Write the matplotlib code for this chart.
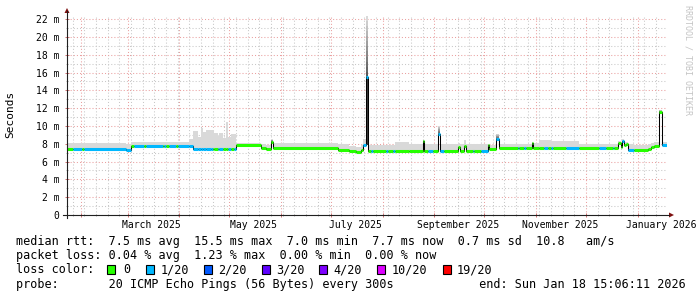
import matplotlib
matplotlib.use('Agg')
import matplotlib.pyplot as plt
import matplotlib.dates as mdates
from matplotlib.patches import Polygon, Rectangle
from matplotlib.lines import Line2D
from matplotlib.transforms import blended_transform_factory
import numpy as np
import pandas as pd

W, H = 697, 297

# time window (last 360 days)
t_start = '2025-01-23 15:06:11'
t_end = '2026-01-18 15:06:11'

# median rtt in ms, drawn as steps: start of step, value, loss class, top of smoke
seg_start = [
    '2025-01-23 15:06', '2025-01-27', '2025-02-01 12:00', '2025-02-03', '2025-02-28',
    '2025-03-03', '2025-03-05', '2025-03-11', '2025-03-12', '2025-03-22',
    '2025-03-23', '2025-03-24', '2025-03-26', '2025-03-30', '2025-03-31',
    '2025-04-07', '2025-04-09', '2025-04-12', '2025-04-14', '2025-04-15',
    '2025-04-17', '2025-04-20', '2025-04-21', '2025-04-22', '2025-04-24',
    '2025-04-25', '2025-04-27', '2025-04-29', '2025-04-30', '2025-05-02',
    '2025-05-04', '2025-05-05', '2025-05-20', '2025-05-23', '2025-05-26',
    '2025-05-27', '2025-07-05', '2025-07-12', '2025-07-16', '2025-07-19',
    '2025-07-20 12:00', '2025-07-22', '2025-07-23 12:00', '2025-07-25', '2025-07-26 12:00',
    '2025-08-03', '2025-08-04 12:00', '2025-08-07', '2025-08-08 12:00', '2025-08-17',
    '2025-08-25', '2025-08-26', '2025-08-28', '2025-08-31', '2025-09-03',
    '2025-09-04 06:00', '2025-09-07', '2025-09-15', '2025-09-16 06:00', '2025-09-19',
    '2025-09-20 06:00', '2025-09-24', '2025-09-25', '2025-09-29', '2025-10-03',
    '2025-10-04', '2025-10-08', '2025-10-09 18:00', '2025-10-21', '2025-10-22',
    '2025-10-25', '2025-10-26', '2025-10-29 12:00', '2025-10-30 12:00', '2025-11-03',
    '2025-11-06', '2025-11-08', '2025-11-10', '2025-11-11', '2025-11-19',
    '2025-11-27', '2025-12-09', '2025-12-13', '2025-12-17', '2025-12-18',
    '2025-12-20', '2025-12-22', '2025-12-22 18:00', '2025-12-24', '2025-12-25',
    '2025-12-26', '2025-12-30', '2026-01-07', '2026-01-09', '2026-01-11',
    '2026-01-14', '2026-01-15 12:00',
]
seg_median = [
    7.45, 7.45, 7.45, 7.45, 7.25,
    7.75, 7.75, 7.75, 7.75, 7.75,
    7.75, 7.75, 7.75, 7.75, 7.75,
    7.75, 7.45, 7.45, 7.45, 7.45,
    7.45, 7.45, 7.45, 7.45, 7.45,
    7.45, 7.45, 7.45, 7.45, 7.45,
    7.45, 7.85, 7.55, 7.4, 8.25,
    7.55, 7.35, 7.2, 7.05, 7.3,
    7.9, 15.5, 7.2, 7.2, 7.2,
    7.2, 7.2, 7.2, 7.2, 7.2,
    8.3, 7.2, 7.2, 7.2, 9.1,
    7.2, 7.2, 7.6, 7.2, 7.8,
    7.2, 7.2, 7.2, 7.2, 7.9,
    7.4, 8.55, 7.5, 7.5, 7.5,
    7.5, 7.5, 8.1, 7.5, 7.5,
    7.5, 7.5, 7.5, 7.5, 7.5,
    7.5, 7.5, 7.5, 7.5, 7.5,
    8.1, 7.6, 8.3, 7.9, 8.0,
    7.35, 7.25, 7.45, 7.65, 7.8,
    11.6, 7.85,
]
seg_loss = [
    0, 1, 0, 1, 1,
    0, 1, 0, 1, 0,
    1, 0, 1, 0, 1,
    1, 1, 1, 1, 1,
    1, 1, 0, 0, 1,
    1, 0, 0, 1, 0,
    1, 0, 0, 0, 0,
    0, 0, 0, 0, 0,
    1, 1, 0, 1, 0,
    1, 0, 1, 0, 0,
    0, 0, 1, 0, 1,
    1, 0, 0, 0, 0,
    0, 1, 0, 1, 0,
    0, 1, 0, 1, 0,
    1, 0, 0, 0, 0,
    1, 0, 1, 0, 1,
    0, 1, 0, 1, 0,
    0, 0, 1, 0, 0,
    1, 0, 0, 0, 0,
    0, 1,
]
seg_smoke = [
    8.05, 8.05, 8.05, 8.1, 7.95,
    8.25, 8.25, 8.2, 8.2, 8.2,
    8.2, 8.2, 8.2, 8.2, 8.2,
    8.5, 9.45, 8.8, 9.8, 9.35,
    9.55, 9.6, 9.6, 9.2, 8.9,
    9.2, 8.7, 10.5, 8.8, 9.1,
    9.1, 8.1, 8.0, 7.9, 8.25,
    8.05, 8.0, 7.8, 7.6, 7.9,
    8.5, 15.5, 7.9, 7.9, 7.9,
    7.9, 7.9, 7.9, 8.2, 7.95,
    8.3, 7.95, 7.95, 7.95, 9.1,
    7.95, 7.95, 8.1, 7.95, 8.4,
    7.95, 7.95, 7.95, 7.95, 8.0,
    7.9, 8.55, 8.0, 8.0, 8.0,
    8.0, 8.0, 8.2, 8.05, 8.4,
    8.4, 8.4, 8.35, 8.35, 8.3,
    8.0, 8.0, 8.0, 8.0, 8.0,
    8.3, 8.1, 8.5, 8.2, 8.2,
    8.0, 7.9, 8.0, 8.1, 8.2,
    11.6, 8.2,
]

# spikes with a darker smoke column
spike_start = ['2025-05-26', '2025-07-22', '2025-08-25', '2025-09-03', '2025-10-08', '2026-01-14']
spike_end = ['2025-05-27', '2025-07-23 12:00', '2025-08-26', '2025-09-04 06:00', '2025-10-09 18:00', '2026-01-15 12:00']
spike_low = [8.25, 7.9, 8.3, 9.1, 8.55, 11.6]
spike_mid = [8.25, 15.5, 8.3, 9.1, 8.55, 11.6]
spike_high = [8.5, 22.4, 8.4, 10.0, 9.1, 11.8]

loss_labels = ['0', '1/20', '2/20', '3/20', '4/20', '10/20', '19/20']
loss_colors = ['#26ff00', '#00b8ff', '#0059ff', '#5e00ff', '#7e00ff', '#dd00ff', '#ff0000']
box_x = [107, 145.5, 204, 261.5, 319, 376.5, 442.5]
label_x = [123, 160.5, 218, 276, 333, 391.5, 456.5]

month_labels = ['March 2025', 'May 2025', 'July 2025', 'September 2025', 'November 2025', 'January 2026']
month_label_at = ['2025-03-15 12:00', '2025-05-15 12:00', '2025-07-15 12:00',
                  '2025-09-15 12:00', '2025-11-15 12:00', '2026-01-15 06:00']

y_ticks = [0, 2, 4, 6, 8, 10, 12, 14, 16, 18, 20, 22]
y_max = 22.47

legend_lines = [
    'median rtt:  7.5 ms avg  15.5 ms max  7.0 ms min  7.7 ms now  0.7 ms sd  10.8   am/s',
    'packet loss: 0.04 % avg  1.23 % max  0.00 % min  0.00 % now',
    'loss color:',
    'probe:       20 ICMP Echo Pings (56 Bytes) every 300s            end: Sun Jan 18 15:06:11 2026',
]

mono = 'DejaVu Sans Mono'


def fx(x):
    return x / W


def fy(y):
    return 1 - y / H


def num(d):
    return mdates.date2num(pd.to_datetime(d))


fig = plt.figure(figsize=(W / 100, H / 100), dpi=100)
fig.patch.set_facecolor('white')
ax = fig.add_axes([fx(67), 1 - 215 / H, 600 / W, 200 / H])
ax.set_facecolor('white')
for s in ax.spines.values():
    s.set_visible(False)

x0, x1 = num(t_start), num(t_end)
ax.set_xlim(x0, x1)
ax.set_ylim(0, y_max)

# grid: months (red) and weeks (grey), 2 ms (red) and 1 ms (grey)
months = pd.date_range('2025-02-01', t_end, freq='MS')
mondays = pd.date_range('2025-01-27', t_end, freq='7D')
ax.set_xticks(mdates.date2num(months))
ax.set_xticks(mdates.date2num(mondays), minor=True)
ax.set_yticks(y_ticks)
ax.set_yticks(np.arange(1, 23, 2), minor=True)
ax.set_yticklabels(['0' if v == 0 else f'{v} m' for v in y_ticks],
                   family=mono, fontsize=7)
ax.tick_params(axis='x', which='both', labelbottom=False)
ax.tick_params(which='major', direction='inout', length=2.5, width=0.7, color='#d07070', pad=4)
ax.tick_params(which='minor', direction='inout', length=2, width=0.7, color='#b0b0b0')
ax.grid(True, which='major', color='#eaa0a0', ls=(0, (1, 2)), lw=0.75)
ax.grid(True, which='minor', color='#c8c8c8', ls=(0, (1, 2)), lw=0.75)
ax.set_axisbelow(True)

# smoke
edges = np.array([num(d) for d in seg_start] + [x1])
med = np.array(seg_median)
ax.stairs(seg_smoke, edges, baseline=med, fill=True, color='#d9d9d9', lw=0, zorder=1)

for s, e, lo, mid, hi in zip(spike_start, spike_end, spike_low, spike_mid, spike_high):
    a, b = num(s), num(e)
    if mid > lo:
        ax.fill_between([a, b], lo, mid, color='#383838', lw=0, zorder=1.5)
    levels = np.linspace(mid, hi, 13)
    greys = np.linspace(0.35, 0.85, 12)
    for k in range(12):
        ax.fill_between([a, b], levels[k], levels[k + 1], color=str(greys[k]), lw=0, zorder=1.5)

# median line and loss colour
ax.stairs(med, edges, baseline=None, color='black', lw=0.75, zorder=2)
ax.hlines(med, edges[:-1], edges[1:], colors=[loss_colors[i] for i in seg_loss],
          lw=2.2, zorder=3)

# month labels
tr = blended_transform_factory(ax.transData, ax.transAxes)
for d, lab in zip(month_label_at, month_labels):
    ax.text(num(d), -13.3 / 200, lab, transform=tr, ha='center', va='baseline',
            family=mono, fontsize=7)

# axes with arrows
axis_col = '#202020'
arrow_col = '#7f1010'
fig.add_artist(Line2D([fx(67), fx(67)], [fy(218), fy(11)], color=axis_col, lw=0.8))
fig.add_artist(Line2D([fx(63), fx(669)], [fy(215), fy(215)], color=axis_col, lw=0.8))
fig.add_artist(Polygon([(fx(64.5), fy(13)), (fx(69.5), fy(13)), (fx(67), fy(8))],
                       closed=True, color=arrow_col, lw=0))
fig.add_artist(Polygon([(fx(669), fy(212.5)), (fx(669), fy(217.5)), (fx(674), fy(215))],
                       closed=True, color=arrow_col, lw=0))

fig.text(fx(10.5), fy(114), 'Seconds', rotation=90, ha='center', va='center',
         family=mono, fontsize=8)
fig.text(fx(688), fy(60), 'RRDTOOL / TOBI OETIKER', rotation=270, ha='center', va='center',
         family=mono, fontsize=6, color='#c4c4c4')

# legend
base = [244.7, 259.0, 273.3, 287.6]
for y, line in zip(base, legend_lines):
    fig.text(fx(16), fy(y), line, ha='left', va='baseline', family=mono, fontsize=8.5)

for bx, lx, c, lab in zip(box_x, label_x, loss_colors, loss_labels):
    fig.add_artist(Rectangle((fx(bx), fy(273.5)), 8 / W, 8.5 / H, facecolor=c,
                             edgecolor='black', lw=0.8))
    fig.text(fx(lx), fy(273.3), lab, ha='left', va='baseline', family=mono, fontsize=8.5)

fig.savefig('out.png', dpi=100, facecolor='white')
